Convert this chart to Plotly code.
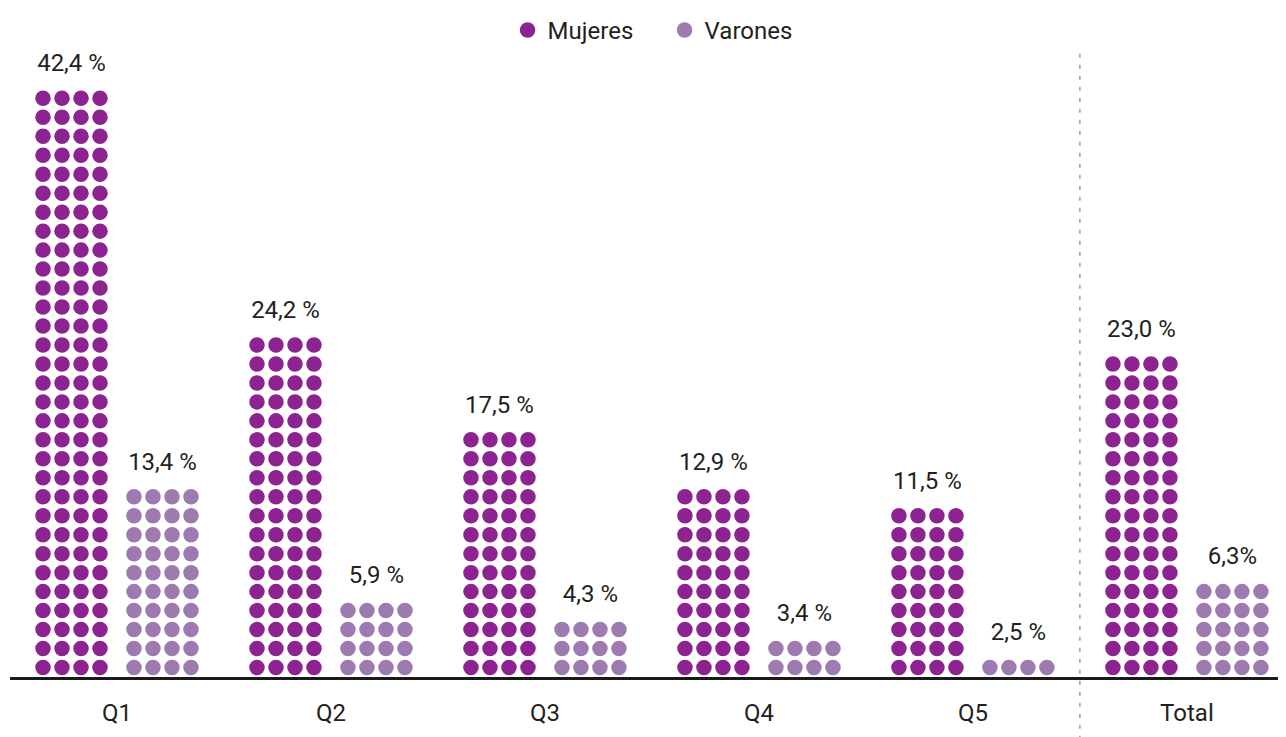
import plotly.graph_objects as go

categories = ["Q1", "Q2", "Q3", "Q4", "Q5", "Total"]
mujeres_values = [42.4, 24.2, 17.5, 12.9, 11.5, 23.0]
varones_values = [13.4, 5.9, 4.3, 3.4, 2.5, 6.3]
mujeres_labels = ["42,4 %", "24,2 %", "17,5 %", "12,9 %", "11,5 %", "23,0 %"]
varones_labels = ["13,4 %", "5,9 %", "4,3 %", "3,4 %", "2,5 %", "6,3%"]
# number of dot rows (4 dots per row) drawn for each column
mujeres_rows = [31, 18, 13, 10, 9, 17]
varones_rows = [10, 4, 3, 2, 1, 5]

COL_M = "#8C2390"
COL_V = "#9D7BB0"
FONT = "Roboto, 'Noto Sans', sans-serif"
TXT = "#231f20"

GROUP_OFF = 0.2126
DOT_STEP = 0.0888
DOTS_PER_ROW = 4


def dots(rows_list, sign):
    xs, ys = [], []
    for i, rows in enumerate(rows_list):
        for r in range(rows):
            for c in range(DOTS_PER_ROW):
                xs.append(i + sign * GROUP_OFF + (c - 1.5) * DOT_STEP)
                ys.append(r)
    return xs, ys


fig = go.Figure()
for name, rows_list, sign, col in [("Mujeres", mujeres_rows, -1, COL_M),
                                   ("Varones", varones_rows, 1, COL_V)]:
    xs, ys = dots(rows_list, sign)
    fig.add_trace(go.Scatter(x=xs, y=ys, mode="markers", name=name,
                             marker=dict(size=15.5, color=col, line=dict(width=0)),
                             hoverinfo="skip"))

for labels, rows_list, sign in [(mujeres_labels, mujeres_rows, -1),
                                (varones_labels, varones_rows, 1)]:
    fig.add_trace(go.Scatter(
        x=[i + sign * GROUP_OFF for i in range(len(categories))],
        y=[r - 1 + 1.75 for r in rows_list],
        mode="text", text=labels, textposition="middle center",
        textfont=dict(family=FONT, size=24, color=TXT),
        showlegend=False, hoverinfo="skip"))

# dashed separator before "Total"
fig.add_shape(type="line", xref="x", yref="paper", x0=4.5, x1=4.5, y0=-0.1, y1=1.0,
              line=dict(color="#6f6f6f", width=1, dash="4px,7px"))

# the page body adds an 8px offset; the figure is sized to end at the window edge
fig.update_layout(
    width=1278, height=729,
    margin=dict(l=2, r=0, t=40, b=60),
    paper_bgcolor="white", plot_bgcolor="white",
    showlegend=True,
    legend=dict(orientation="h", x=0.513, xanchor="center", y=1.03, yanchor="middle",
                font=dict(family=FONT, size=24, color=TXT),
                entrywidth=112, entrywidthmode="pixels"),
    xaxis=dict(range=[-0.5, 5.463], tickvals=list(range(len(categories))),
               ticktext=categories, showgrid=False, zeroline=False,
               showline=True, linecolor="#1a1a1a", linewidth=2.5,
               ticks="outside", ticklen=0, ticklabelstandoff=12,
               tickfont=dict(family=FONT, size=24, color=TXT)),
    yaxis=dict(range=[-0.5, 32.6], visible=False, showgrid=False, zeroline=False),
)

fig.write_html("out.html")
